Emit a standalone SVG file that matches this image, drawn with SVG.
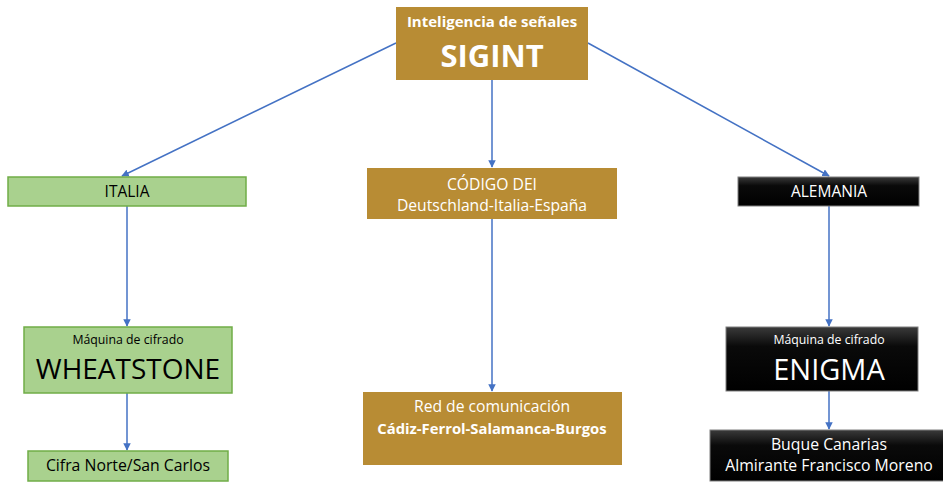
<svg xmlns="http://www.w3.org/2000/svg" width="943" height="482" viewBox="0 0 943 482">
<defs>
<linearGradient id="blk" x1="0" y1="0" x2="0" y2="1">
<stop offset="0" stop-color="#3a3a3a"/>
<stop offset="0.3" stop-color="#0a0a0a"/>
<stop offset="1" stop-color="#000"/>
</linearGradient>
<marker id="ah" viewBox="0 0 10 10" refX="9" refY="5" markerWidth="5" markerHeight="5" orient="auto">
<path d="M0,0 L10,5 L0,10 z" fill="#4472C4"/>
</marker>
<style>
.gold{fill:#B88C34;}
.green{fill:#A9D18E;stroke:#70AD47;stroke-width:1.5;}
.black{fill:url(#blk);stroke:#7f7f7f;stroke-width:1;}
text{font-family:"Open Sans","Noto Sans","Liberation Sans",sans-serif;text-anchor:middle;}
.w{fill:#fff;}
.k{fill:#000;}
.conn line{stroke:#4472C4;stroke-width:1.5;marker-end:url(#ah);}
</style>
</defs>
<rect width="943" height="482" fill="#fff"/>
<g class="conn" id="connectors">
<line x1="396" y1="43" x2="122" y2="176"/>
<line x1="492" y1="80" x2="492" y2="167"/>
<line x1="588" y1="43" x2="829" y2="176"/>
<line x1="127" y1="206" x2="127" y2="326"/>
<line x1="492" y1="219" x2="492" y2="391"/>
<line x1="829" y1="206" x2="829" y2="326"/>
<line x1="127" y1="393" x2="127" y2="450"/>
<line x1="829" y1="391" x2="829" y2="429"/>
</g>
<g id="sigint">
<rect class="gold" x="396" y="7" width="192" height="73"/>
<text class="w" x="492" y="27" font-size="15" font-weight="bold">Inteligencia de señales</text>
<text class="w" x="492" y="67" font-size="31" font-weight="bold">SIGINT</text>
</g>
<g id="italia">
<rect class="green" x="8" y="177" width="238" height="29"/>
<text class="k" x="127" y="197" font-size="15.5">ITALIA</text>
</g>
<g id="codigo">
<rect class="gold" x="367" y="168" width="250" height="51"/>
<text class="w" x="492" y="190" font-size="15.7">CÓDIGO DEI</text>
<text class="w" x="492" y="211" font-size="15.7">Deutschland-Italia-España</text>
</g>
<g id="alemania">
<rect class="black" x="738" y="177" width="181" height="29"/>
<text class="w" x="829" y="197" font-size="15.5">ALEMANIA</text>
</g>
<g id="wheatstone">
<rect class="green" x="24" y="327" width="208" height="66"/>
<text class="k" x="128" y="344" font-size="12.3">Máquina de cifrado</text>
<text class="k" x="128" y="379" font-size="28">WHEATSTONE</text>
</g>
<g id="cifra">
<rect class="green" x="28" y="451" width="200" height="30"/>
<text class="k" x="128" y="471" font-size="15.8">Cifra Norte/San Carlos</text>
</g>
<g id="red">
<rect class="gold" x="363" y="392" width="259" height="73"/>
<text class="w" x="492" y="412" font-size="15.7">Red de comunicación</text>
<text class="w" x="492" y="434" font-size="14.8" font-weight="bold">Cádiz-Ferrol-Salamanca-Burgos</text>
</g>
<g id="enigma">
<rect class="black" x="726" y="327" width="192" height="64"/>
<text class="w" x="829" y="344" font-size="12.3">Máquina de cifrado</text>
<text class="w" x="829" y="380" font-size="29">ENIGMA</text>
</g>
<g id="buque">
<rect class="black" x="710" y="430" width="240" height="51"/>
<text class="w" x="829" y="450" font-size="15.8">Buque Canarias</text>
<text class="w" x="829" y="471" font-size="15.8">Almirante Francisco Moreno</text>
</g>
</svg>
